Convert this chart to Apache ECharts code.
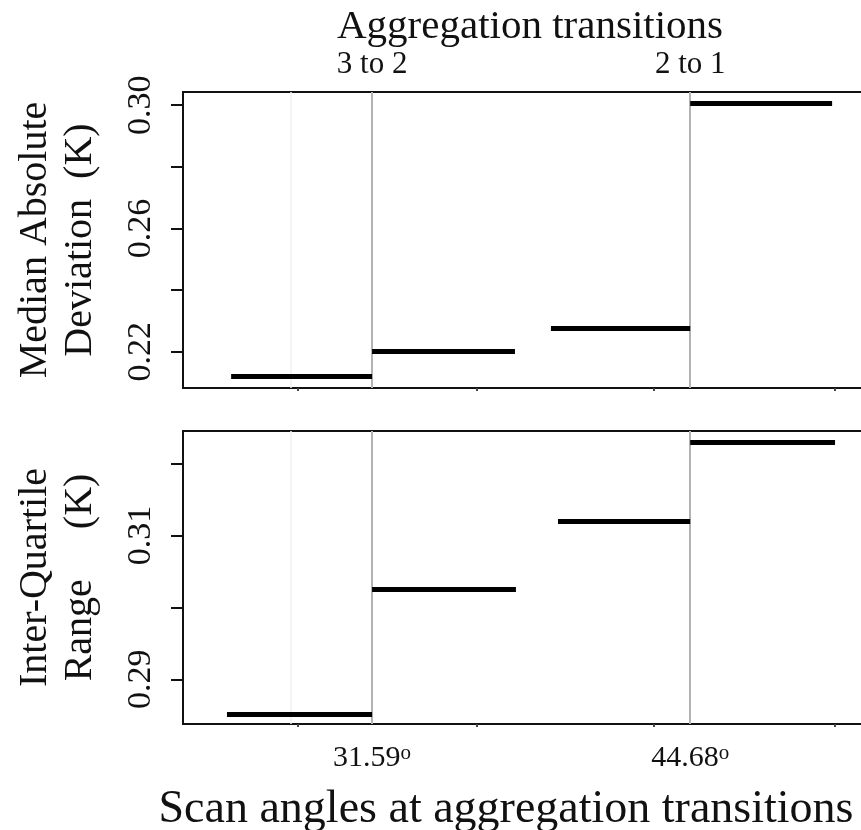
<!DOCTYPE html>
<html>
<head>
<meta charset="utf-8">
<script src="https://cdn.jsdelivr.net/npm/echarts@6/dist/echarts.min.js"></script>
<style>
  html, body { margin: 0; padding: 0; background: #fff; }
  #main { width: 861px; height: 830px; }
</style>
</head>
<body>
<div id="main"></div>
<script>
// transitions (scan angle, degrees)
const transitionAngles = [31.59, 44.68];
const transitionNames = ['3 to 2', '2 to 1'];
const faintGuides = [28.25];

// median absolute deviation segments
const madStart = [25.79, 31.59, 38.95, 44.68];
const madEnd = [31.59, 37.47, 44.68, 50.52];
const madValues = [0.2119, 0.2200, 0.2276, 0.3008];

// inter-quartile range segments
const iqrStart = [25.62, 31.59, 39.24, 44.68];
const iqrEnd = [31.59, 37.51, 44.68, 50.64];
const iqrValues = [0.2851, 0.3025, 0.3119, 0.3230];

// ticks
const xTicks = [28.54, 35.91, 43.19, 50.64];
const madTicks = [0.22, 0.24, 0.26, 0.28, 0.30];
const madLabels = [0.22, 0.26, 0.30];
const iqrTicks = [0.29, 0.30, 0.31, 0.32];
const iqrLabels = [0.29, 0.31];

const font = '"Liberation Serif", "DejaVu Serif", serif';
const xMin = 23.81, xMax = 52.12;

function segments(starts, ends, values) {
    return values.map((v, i) => ({ coords: [[starts[i], v], [ends[i], v]] }));
}

function guides() {
    return {
        silent: true, symbol: 'none', label: { show: false },
        data: faintGuides.map(v => ({ xAxis: v, lineStyle: { color: '#f0f0f0', width: 1.5, type: 'solid' } }))
            .concat(transitionAngles.map(v => ({ xAxis: v, lineStyle: { color: '#b3b3b3', width: 2, type: 'solid' } })))
    };
}

var chart = echarts.init(document.getElementById('main'));

var tickStyle = { color: '#111', width: 2 };

var option = {
    animation: false,
    backgroundColor: '#fff',
    grid: [
        { left: 183, top: 92, right: -10, height: 296, outerBoundsMode: 'none', show: true, borderColor: '#111', borderWidth: 2, backgroundColor: '#fff' },
        { left: 183, top: 431, right: -10, height: 293, outerBoundsMode: 'none', show: true, borderColor: '#111', borderWidth: 2, backgroundColor: '#fff' }
    ],
    xAxis: [
        {
            gridIndex: 0, type: 'value', position: 'bottom', min: xMin, max: xMax,
            axisLine: { show: false }, splitLine: { show: false },
            axisTick: { customValues: xTicks, length: 3, lineStyle: { color: '#444', width: 2 } },
            axisLabel: { show: false }
        },
        {
            gridIndex: 0, type: 'value', position: 'top', min: xMin, max: xMax,
            axisLine: { show: false }, splitLine: { show: false }, axisTick: { show: false },
            axisLabel: {
                customValues: transitionAngles,
                formatter: v => transitionNames[transitionAngles.indexOf(v)],
                fontFamily: font, fontSize: 31, color: '#111', margin: 12
            },
            name: 'Aggregation transitions', nameLocation: 'middle', nameGap: 39,
            nameTextStyle: { fontFamily: font, fontSize: 41, color: '#111', padding: [0, 0, 0, 6] }
        },
        {
            gridIndex: 1, type: 'value', position: 'bottom', min: xMin, max: xMax,
            axisLine: { show: false }, splitLine: { show: false },
            axisTick: { customValues: xTicks, length: 3, lineStyle: { color: '#444', width: 2 } },
            axisLabel: {
                customValues: transitionAngles,
                formatter: v => '{n|' + v.toFixed(2) + '}{d|o}',
                margin: 19,
                rich: {
                    n: { fontFamily: font, fontSize: 30, color: '#111' },
                    d: { fontFamily: font, fontSize: 21, color: '#111', verticalAlign: 'top' }
                }
            },
            name: 'Scan angles at aggregation transitions', nameLocation: 'middle', nameGap: 63,
            nameTextStyle: { fontFamily: font, fontSize: 46, color: '#111', padding: [0, 42, 0, 0] }
        }
    ],
    yAxis: [
        {
            gridIndex: 0, type: 'value', min: 0.2082, max: 0.3043,
            axisLine: { show: false }, splitLine: { show: false },
            axisTick: { customValues: madTicks, length: 12, lineStyle: tickStyle },
            axisLabel: {
                customValues: madLabels, rotate: 90, margin: 25,
                formatter: v => v.toFixed(2),
                fontFamily: font, fontSize: 34, color: '#111'
            },
            name: 'Median Absolute\nDeviation  (K)', nameLocation: 'middle', nameRotate: 90, nameGap: 80,
            nameTextStyle: { fontFamily: font, fontSize: 40, lineHeight: 45, color: '#111' }
        },
        {
            gridIndex: 1, type: 'value', min: 0.2838, max: 0.3245,
            axisLine: { show: false }, splitLine: { show: false },
            axisTick: { customValues: iqrTicks, length: 12, lineStyle: tickStyle },
            axisLabel: {
                customValues: iqrLabels, rotate: 90, margin: 25,
                formatter: v => v.toFixed(2),
                fontFamily: font, fontSize: 34, color: '#111'
            },
            name: 'Inter-Quartile\nRange     (K)', nameLocation: 'middle', nameRotate: 90, nameGap: 80,
            nameTextStyle: { fontFamily: font, fontSize: 40, lineHeight: 45, color: '#111' }
        }
    ],
    series: [
        { type: 'line', xAxisIndex: 0, yAxisIndex: 0, data: [], z: 1, markLine: guides() },
        { type: 'line', xAxisIndex: 2, yAxisIndex: 1, data: [], z: 1, markLine: guides() },
        {
            type: 'lines', coordinateSystem: 'cartesian2d', xAxisIndex: 0, yAxisIndex: 0, z: 10,
            lineStyle: { color: '#000', width: 5, opacity: 1 },
            data: segments(madStart, madEnd, madValues)
        },
        {
            type: 'lines', coordinateSystem: 'cartesian2d', xAxisIndex: 2, yAxisIndex: 1, z: 10,
            lineStyle: { color: '#000', width: 5, opacity: 1 },
            data: segments(iqrStart, iqrEnd, iqrValues)
        }
    ]
};

option && chart.setOption(option);
</script>
</body>
</html>
